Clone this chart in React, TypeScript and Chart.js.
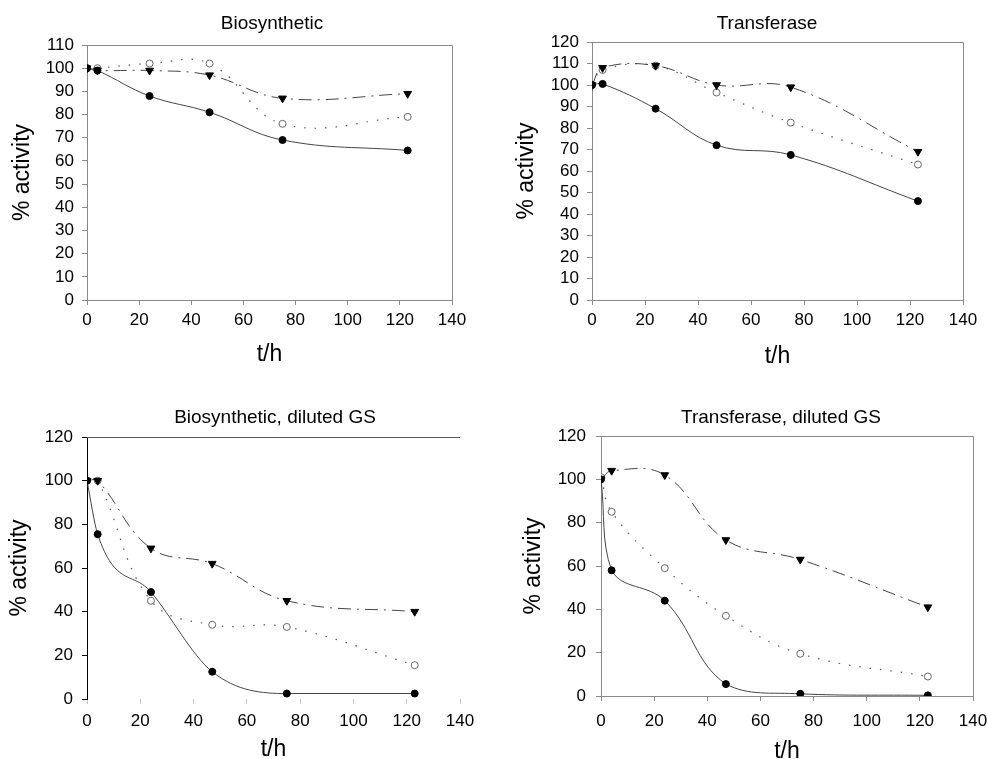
import React, { useEffect, useRef } from "react";
import { Chart, registerables } from "chart.js";
Chart.register(...registerables);

// ---- data ----
const hours = [0, 4, 24, 47, 75, 123];

const bioFilled = [100, 99, 88, 81, 69, 64.5];
const bioTriangle = [100, 99, 99, 97, 87, 89];
const bioOpen = [100, 100, 102, 102, 76, 79];

const transFilled = [100, 100.5, 89, 72, 67.5, 46];
const transTriangle = [100, 108, 109, 100, 99, 69];
const transOpen = [100, 107, 109, 96.5, 82.5, 63];

const bioDilFilled = [100, 75.5, 49, 12.5, 2.5, 2.5];
const bioDilTriangle = [100, 100, 69, 62, 45, 40];
const bioDilOpen = [100, 100, 45, 34, 33, 15.5];

const transDilFilled = [100, 58, 44, 5.5, 1, 0.3];
const transDilTriangle = [100, 104, 102, 72, 63, 41];
const transDilOpen = [101, 85, 59, 37, 19.5, 9];

const panelTitles = ["Biosynthetic", "Transferase", "Biosynthetic, diluted GS", "Transferase, diluted GS"];
const xAxisTitle = "t/h";
const yAxisTitle = "% activity";
const xMax = 140;
const xStep = 20;

const FONT = "'Liberation Sans', Arial, sans-serif";

type PanelCfg = {
  title: string;
  filled: number[];
  tri: number[];
  open: number[];
  filledMono: boolean;
  yMax: number;
  yStep: number;
  x0: number; y0: number; w: number; h: number;
  L: number; R: number; T: number; B: number;
  yTitleX: number; xTitlePad: number;
  yTickPad: number; xTickPad: number;
  titleX: number; titleY: number;
  frame: "box" | "top";
};

const panels: PanelCfg[] = [
  {
    title: panelTitles[0], filled: bioFilled, tri: bioTriangle, open: bioOpen, filledMono: false,
    yMax: 110, yStep: 10,
    x0: 0, y0: 0, w: 494, h: 380,
    L: 87, R: 452, T: 45, B: 300,
    yTitleX: 22.5, xTitlePad: 11.5, yTickPad: 8, xTickPad: 5,
    titleX: 272, titleY: 29, frame: "box",
  },
  {
    title: panelTitles[1], filled: transFilled, tri: transTriangle, open: transOpen, filledMono: false,
    yMax: 120, yStep: 10,
    x0: 494, y0: 0, w: 494, h: 380,
    L: 98, R: 469, T: 42, B: 300,
    yTitleX: 32.5, xTitlePad: 9.8, yTickPad: 8, xTickPad: 5,
    titleX: 273, titleY: 29, frame: "box",
  },
  {
    title: panelTitles[2], filled: bioDilFilled, tri: bioDilTriangle, open: bioDilOpen, filledMono: true,
    yMax: 120, yStep: 20,
    x0: 0, y0: 380, w: 494, h: 400,
    L: 87, R: 460, T: 57, B: 319,
    yTitleX: 19.5, xTitlePad: 16.5, yTickPad: 9, xTickPad: 7,
    titleX: 275, titleY: 43, frame: "top",
  },
  {
    title: panelTitles[3], filled: transDilFilled, tri: transDilTriangle, open: transDilOpen, filledMono: false,
    yMax: 120, yStep: 20,
    x0: 494, y0: 380, w: 494, h: 400,
    L: 107, R: 479, T: 56, B: 316,
    yTitleX: 40, xTitlePad: 14.8, yTickPad: 10, xTickPad: 10,
    titleX: 287, titleY: 43, frame: "box",
  },
];

const AXIS_TITLE_SIZE = 23;
const TICK_SIZE = 17;
const TITLE_SIZE = 19;

function Panel({ cfg }: { cfg: PanelCfg }) {
  const ref = useRef<HTMLCanvasElement | null>(null);
  useEffect(() => {
    if (!ref.current) return;
    const lh = AXIS_TITLE_SIZE * 1.2;
    const padLeft = cfg.yTitleX - lh / 2;
    const mk = (vals: number[]) => hours.map((x, i) => ({ x, y: vals[i] }));

    const framePlugin = {
      id: "frame" + cfg.title.replace(/\W/g, ""),
      beforeDatasetsDraw(chart: any) {
        const { ctx, chartArea: a } = chart;
        ctx.save();
        ctx.lineWidth = 1;
        if (cfg.frame === "box") {
          ctx.strokeStyle = "#8a8a8a";
          ctx.beginPath();
          ctx.moveTo(a.left, a.top + 0.5);
          ctx.lineTo(a.right + 0.5, a.top + 0.5);
          ctx.lineTo(a.right + 0.5, a.bottom);
          ctx.stroke();
        } else {
          ctx.strokeStyle = "#555";
          ctx.beginPath();
          ctx.moveTo(a.left, a.top + 0.5);
          ctx.lineTo(a.right, a.top + 0.5);
          ctx.stroke();
        }
        ctx.restore();
      },
      afterDraw(chart: any) {
        const { ctx } = chart;
        ctx.save();
        ctx.font = `${TITLE_SIZE}px ${FONT}`;
        ctx.fillStyle = "#000";
        ctx.textAlign = "center";
        ctx.textBaseline = "alphabetic";
        ctx.fillText(cfg.title, cfg.titleX, cfg.titleY);
        ctx.restore();
      },
    };

    const axisColor = cfg.frame === "box" ? "#8a8a8a" : "#000";

    const chart = new Chart(ref.current, {
      type: "line",
      data: {
        datasets: [
          {
            data: mk(cfg.filled),
            borderColor: "#444",
            borderWidth: 1,
            pointStyle: "circle",
            pointRadius: 3.5,
            pointBackgroundColor: "#000",
            pointBorderColor: "#000",
            pointBorderWidth: 1,
            tension: 0.4,
            cubicInterpolationMode: cfg.filledMono ? "monotone" : "default",
          },
          {
            data: mk(cfg.tri),
            borderColor: "#444",
            borderWidth: 1,
            borderDash: [13, 6, 2, 6],
            pointStyle: "triangle",
            rotation: 180,
            pointRadius: 4.5,
            pointBackgroundColor: "#000",
            pointBorderColor: "#000",
            pointBorderWidth: 1,
            tension: 0.4,
          },
          {
            data: mk(cfg.open),
            borderColor: "#555",
            borderWidth: 1.2,
            borderDash: [1.5, 9],
            pointStyle: "circle",
            pointRadius: 3.5,
            pointBackgroundColor: "#fff",
            pointBorderColor: "#666",
            pointBorderWidth: 1,
            tension: 0.4,
          },
        ] as any,
      },
      options: {
        animation: false,
        responsive: false,
        events: [],
        layout: {
          padding: { left: padLeft, top: cfg.T, right: cfg.w - cfg.R, bottom: 0 },
        },
        plugins: { legend: { display: false }, tooltip: { enabled: false }, title: { display: false } },
        scales: {
          x: {
            type: "linear",
            min: 0,
            max: xMax,
            ticks: {
              stepSize: xStep,
              maxTicksLimit: 20,
              autoSkip: false,
              color: "#000",
              font: { family: FONT, size: TICK_SIZE },
              padding: cfg.xTickPad,
              maxRotation: 0,
            },
            grid: {
              drawOnChartArea: false,
              drawTicks: true,
              tickLength: 5,
              color: cfg.frame === "box" ? "#8a8a8a" : "#c8c8c8",
            },
            border: { display: cfg.frame === "box", color: "#8a8a8a" },
            title: {
              display: true,
              text: xAxisTitle,
              color: "#000",
              font: { family: FONT, size: AXIS_TITLE_SIZE },
              padding: { top: 0, bottom: cfg.xTitlePad },
            },
            afterFit(scale: any) {
              scale.height = cfg.h - cfg.B;
              scale.paddingLeft = 0;
              scale.paddingRight = 0;
            },
          },
          y: {
            type: "linear",
            min: 0,
            max: cfg.yMax,
            ticks: {
              stepSize: cfg.yStep,
              maxTicksLimit: 20,
              autoSkip: false,
              color: "#000",
              font: { family: FONT, size: TICK_SIZE },
              padding: cfg.yTickPad,
            },
            grid: {
              drawOnChartArea: false,
              drawTicks: true,
              tickLength: 5,
              color: axisColor,
            },
            border: { display: true, color: axisColor },
            title: {
              display: true,
              text: yAxisTitle,
              color: "#000",
              font: { family: FONT, size: AXIS_TITLE_SIZE },
              padding: { top: 0, bottom: 0 },
            },
            afterFit(scale: any) {
              scale.width = cfg.L - padLeft;
              scale.paddingTop = 0;
              scale.paddingBottom = 0;
            },
          },
        },
      } as any,
      plugins: [framePlugin],
    });
    return () => chart.destroy();
  }, [cfg]);

  return (
    <canvas
      ref={ref}
      width={cfg.w}
      height={cfg.h}
      style={{ position: "absolute", left: cfg.x0, top: cfg.y0, width: cfg.w, height: cfg.h }}
    />
  );
}

export default function App() {
  return (
    <div
      style={{
        position: "fixed",
        left: 0,
        top: 0,
        width: 988,
        height: 759,
        overflow: "hidden",
        background: "#fff",
      }}
    >
      {panels.map((p) => (
        <Panel key={p.title} cfg={p} />
      ))}
    </div>
  );
}
